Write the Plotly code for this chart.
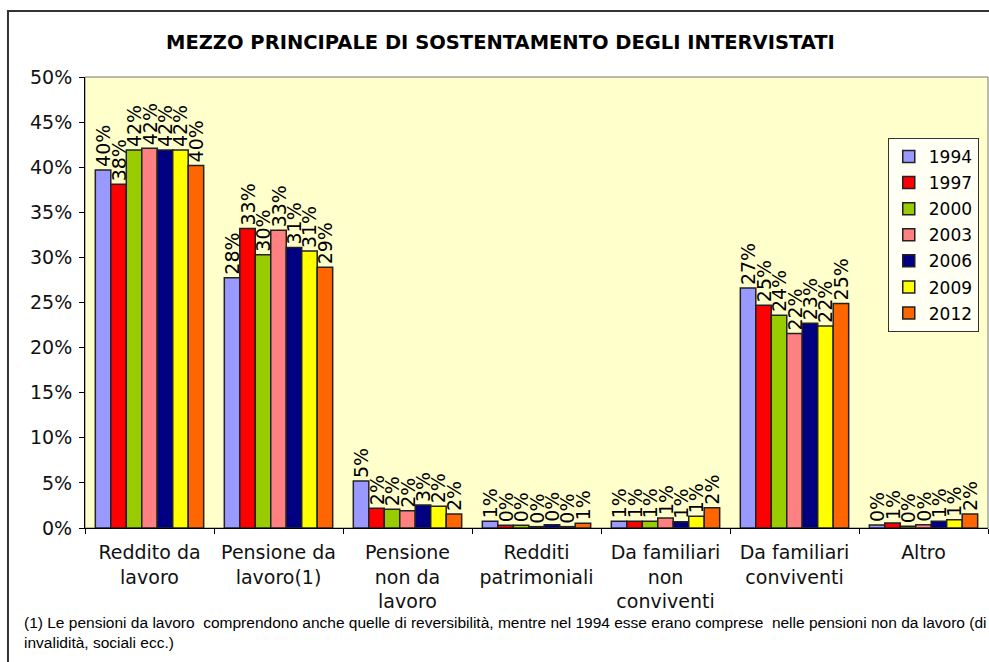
import plotly.graph_objects as go

categories = ["Reddito da<br>lavoro", "Pensione da<br>lavoro(1)", "Pensione<br>non da<br>lavoro",
              "Redditi<br>patrimoniali", "Da familiari<br>non<br>conviventi", "Da familiari<br>conviventi", "Altro"]
years = ["1994", "1997", "2000", "2003", "2006", "2009", "2012"]

# values as fractions, one list per year (categories in order above)
v1994 = [0.397, 0.2775, 0.052, 0.0074, 0.0074, 0.266, 0.0033]
v1997 = [0.381, 0.332, 0.022, 0.003, 0.0074, 0.247, 0.0055]
v2000 = [0.419, 0.303, 0.0207, 0.003, 0.0074, 0.236, 0.0019]
v2003 = [0.421, 0.330, 0.019, 0.0015, 0.011, 0.2155, 0.0037]
v2006 = [0.419, 0.311, 0.0255, 0.0035, 0.007, 0.227, 0.0074]
v2009 = [0.419, 0.307, 0.024, 0.0015, 0.013, 0.224, 0.0092]
v2012 = [0.402, 0.289, 0.0155, 0.0052, 0.0225, 0.249, 0.0155]

values = [v1994, v1997, v2000, v2003, v2006, v2009, v2012]
colors = ["#9999FF", "#FF0000", "#99CC00", "#FF8080", "#000080", "#FFFF00", "#FF6600"]

fig = go.Figure()
for yr, vals, col in zip(years, values, colors):
    fig.add_trace(go.Bar(
        x=categories, y=vals, name=yr, legendgroup=yr,
        marker=dict(color=col, line=dict(color="#222222", width=1.5)),
        texttemplate="%{y:.0%}", textposition="outside", textangle=-90,
        textfont=dict(family="DejaVu Sans", size=19, color="black"),
        constraintext="none", cliponaxis=False,
    ))

fig.update_layout(
    width=989, height=662,
    margin=dict(l=85, r=1, t=77, b=134),
    paper_bgcolor="white", plot_bgcolor="#FFFFCC",
    font=dict(family="DejaVu Sans", size=19, color="black"),
    barmode="group", bargap=0.16, bargroupgap=0,
    title=dict(text="<b>MEZZO PRINCIPALE DI SOSTENTAMENTO DEGLI INTERVISTATI</b>",
               x=0.506, xanchor="center", y=1 - 42 / 662, yanchor="middle",
               font=dict(family="DejaVu Sans", size=19.5, color="black")),
    legend=dict(x=0.889, y=0.865, xanchor="left", yanchor="top",
                bgcolor="#FFFFF4", bordercolor="#333333", borderwidth=1,
                font=dict(family="DejaVu Sans", size=17), tracegroupgap=1,
                itemwidth=30),
    showlegend=True,
)

fig.update_xaxes(showline=True, linecolor="black", linewidth=1, ticks="outside",
                 tickson="boundaries", ticklen=5, tickcolor="black", showgrid=False,
                 ticklabelstandoff=7,
                 tickfont=dict(size=19, color="#111111"))
fig.update_yaxes(range=[0, 0.5], dtick=0.05, tickformat=".0%", showline=True,
                 linecolor="black", linewidth=1, ticks="outside", ticklen=5,
                 tickcolor="black", showgrid=False, zeroline=False,
                 ticklabelstandoff=3,
                 tickfont=dict(size=19, color="#111111"))

# plot area border
fig.add_shape(type="rect", xref="paper", yref="paper", x0=0, x1=1, y0=0, y1=1,
              line=dict(color="#777777", width=1), layer="below")
# outer chart border
fig.add_shape(type="rect", xref="paper", yref="paper", x0=-0.0853, x1=1.2, y0=-0.5, y1=1.1463,
              line=dict(color="#333333", width=2))

fig.add_annotation(
    text="(1) Le pensioni da lavoro  comprendono anche quelle di reversibilità, mentre nel 1994 esse erano comprese  nelle pensioni non da lavoro (di<br>invalidità, sociali ecc.)",
    xref="paper", yref="paper", x=-0.0698, y=-0.186, xanchor="left", yanchor="top",
    align="left", showarrow=False,
    font=dict(family="Liberation Sans", size=15.5, color="black"))

fig.write_html("out.html", config={"displayModeBar": False},
               post_script="document.body.style.margin='0';")
